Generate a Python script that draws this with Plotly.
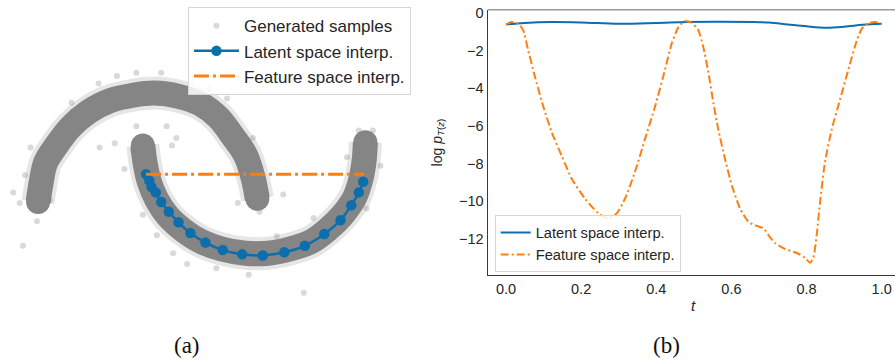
import plotly.graph_objects as go

# ---------------- Panel (a): two-moons samples ----------------
# centre line of the dense sample bands (data units)
upper_moon_x = [-0.99, -0.96, -0.92, -0.82, -0.69, -0.53, -0.32, -0.11, 0.09, 0.31, 0.51, 0.68, 0.81, 0.93, 1.00, 1.04]
upper_moon_y = [-0.03, 0.16, 0.34, 0.50, 0.67, 0.81, 0.92, 0.97, 0.99, 0.96, 0.89, 0.76, 0.59, 0.41, 0.20, 0.00]
lower_moon_x = [-0.02, 0.00, 0.04, 0.11, 0.21, 0.35, 0.52, 0.71, 0.93, 1.14, 1.34, 1.54, 1.69, 1.83, 1.94, 2.00, 2.03, 2.04]
lower_moon_y = [0.50, 0.34, 0.16, -0.01, -0.16, -0.29, -0.40, -0.47, -0.51, -0.51, -0.47, -0.40, -0.29, -0.15, 0.01, 0.19, 0.37, 0.53]

# isolated samples visible outside the dense bands
stray_x = [-1.13, 1.47, 1.28, -1.22, -1.16, -0.42, -0.19, -0.28, -0.08, 0.20, 0.29, 0.25, -0.43, -0.26, -0.08, 0.15,
           0.60, 0.76, -1.00, 2.18, 2.05, 0.11, 0.39, 0.26, 0.66, 0.96, 0.86, 1.06, 1.56, 1.98, 2.11, -0.11, 1.00,
           -0.02, -0.68, -1.06, -1.11, -0.88, 1.22, 1.87]
stray_y = [-0.44, -0.88, 0.04, 0.06, -0.04, 0.48, 0.28, 0.52, 0.68, 0.68, 0.57, 0.50, 1.08, 1.15, 1.18, 1.18,
           1.03, 0.94, -0.21, 0.31, -0.09, -0.34, -0.61, -0.51, -0.65, -0.71, -0.04, -0.12, -0.18, 0.64, 0.64, 0.45, 0.57,
           -0.15, 0.90, 0.48, 0.22, -0.01, -0.35, 0.39]

latent_x = [0.01, 0.04, 0.06, 0.10, 0.15, 0.22, 0.31, 0.42, 0.56, 0.72, 0.90, 1.09, 1.29, 1.48, 1.66, 1.81, 1.91, 1.98, 2.02]
latent_y = [0.23, 0.17, 0.11, 0.06, -0.03, -0.12, -0.22, -0.32, -0.41, -0.48, -0.52, -0.53, -0.50, -0.44, -0.33, -0.20, -0.06, 0.06, 0.16]

feature_x = [0.01, 2.03]
feature_y = [0.23, 0.23]

# ---------------- Panel (b): log-density along the path ----------------
t_latent = [0.0, 0.05, 0.12, 0.2, 0.3, 0.4, 0.48, 0.56, 0.66, 0.7, 0.75, 0.8, 0.853, 0.9, 0.95, 1.0]
lp_latent = [-0.60, -0.52, -0.47, -0.49, -0.56, -0.52, -0.47, -0.46, -0.47, -0.50, -0.60, -0.70, -0.77, -0.72, -0.62, -0.56]

t_feature = [0.000, 0.015, 0.033, 0.046, 0.059, 0.077, 0.099, 0.122, 0.148, 0.175, 0.210, 0.246, 0.271, 0.295,
             0.317, 0.343, 0.370, 0.397, 0.423, 0.441, 0.459, 0.476, 0.494, 0.512, 0.525, 0.539, 0.552, 0.565,
             0.583, 0.601, 0.623, 0.645, 0.667, 0.685, 0.698, 0.716, 0.743, 0.774, 0.796, 0.809, 0.818, 0.827,
             0.836, 0.849, 0.867, 0.889, 0.911, 0.934, 0.947, 0.964, 0.982, 1.000]
lp_feature = [-0.60, -0.47, -0.56, -0.91, -1.97, -3.37, -4.95, -6.35, -7.58, -8.81, -9.86, -10.65, -10.91, -10.65,
              -9.86, -8.46, -6.70, -4.95, -3.02, -1.62, -0.74, -0.42, -0.51, -0.91, -1.79, -3.19, -4.77, -6.18,
              -7.76, -9.16, -10.39, -11.09, -11.32, -11.44, -11.79, -12.23, -12.55, -12.76, -13.02, -13.28, -13.02, -11.79,
              -10.04, -7.93, -6.18, -4.60, -3.02, -1.44, -0.83, -0.53, -0.47, -0.56]

x_ticks = [0.0, 0.2, 0.4, 0.6, 0.8, 1.0]
x_tick_text = ["0.0", "0.2", "0.4", "0.6", "0.8", "1.0"]
y_ticks = [0, -2, -4, -6, -8, -10, -12]
y_tick_text = ["0", "\u22122", "\u22124", "\u22126", "\u22128", "\u221210", "\u221212"]

BLUE = "#0c6eac"
ORANGE = "#ff7f0e"
SANS = "Liberation Sans, Arial, sans-serif"
SERIF = "Liberation Serif, Times New Roman, serif"
TXT = "#262626"

fig = go.Figure()

# dense bands (halo + core) for both moons
for mx, my in [(upper_moon_x, upper_moon_y), (lower_moon_x, lower_moon_y)]:
    fig.add_trace(go.Scatter(x=mx, y=my, mode="lines", line=dict(color="rgba(128,128,128,0.2)", width=33, shape="spline"),
                             showlegend=False, hoverinfo="skip", xaxis="x", yaxis="y"))
    fig.add_trace(go.Scatter(x=mx, y=my, mode="lines", line=dict(color="#858585", width=25, shape="spline"),
                             showlegend=False, hoverinfo="skip", xaxis="x", yaxis="y"))
    fig.add_trace(go.Scatter(x=[mx[0], mx[-1]], y=[my[0], my[-1]], mode="markers",
                             marker=dict(color="#858585", size=24, line=dict(width=0)),
                             showlegend=False, hoverinfo="skip", xaxis="x", yaxis="y"))

fig.add_trace(go.Scatter(x=stray_x, y=stray_y, mode="markers", name="Generated samples",
                         marker=dict(color="gray", opacity=0.3, size=6, line=dict(width=0)),
                         xaxis="x", yaxis="y", legend="legend"))
fig.add_trace(go.Scatter(x=latent_x, y=latent_y, mode="lines+markers", name="Latent space interp.",
                         line=dict(color=BLUE, width=2.5, shape="spline"),
                         marker=dict(color=BLUE, size=10.5),
                         xaxis="x", yaxis="y", legend="legend"))
fig.add_trace(go.Scatter(x=feature_x, y=feature_y, mode="lines", name="Feature space interp.",
                         line=dict(color=ORANGE, width=3, dash="15px,4px,3px,4px"),
                         xaxis="x", yaxis="y", legend="legend"))

# panel (b)
fig.add_trace(go.Scatter(x=t_latent, y=lp_latent, mode="lines", name="Latent space interp.",
                         line=dict(color=BLUE, width=2, shape="spline", smoothing=1.0),
                         xaxis="x2", yaxis="y2", legend="legend2"))
fig.add_trace(go.Scatter(x=t_feature, y=lp_feature, mode="lines", name="Feature space interp.",
                         line=dict(color=ORANGE, width=2, shape="spline", smoothing=0.6, dash="8px,3px,2px,3px"),
                         xaxis="x2", yaxis="y2", legend="legend2"))

fig.update_layout(
    width=895, height=361,
    margin=dict(l=0, r=0, t=0, b=0),
    paper_bgcolor="white", plot_bgcolor="white",
    font=dict(family=SANS, color=TXT, size=14),
    xaxis=dict(domain=[0, 0.4693], range=[-1.3426, 2.5463], visible=False),
    yaxis=dict(domain=[0, 1], range=[-1.5185, 1.8241], visible=False),
    xaxis2=dict(domain=[0.5449, 1.0], range=[-0.0487, 1.0354], anchor="y2",
                tickvals=x_ticks, ticktext=x_tick_text, showgrid=False, zeroline=False,
                showline=True, linecolor="#3a3a3a", linewidth=1.3, ticks="",
                ticklabelstandoff=0, tickfont=dict(size=14.5, color=TXT, family=SANS)),
    yaxis2=dict(domain=[0.2410, 0.9842], range=[-13.93, 0.19], anchor="x2",
                tickvals=y_ticks, ticktext=y_tick_text, showgrid=False, zeroline=False,
                showline=True, linecolor="#3a3a3a", linewidth=1.3, ticks="",
                ticklabelstandoff=0, tickfont=dict(size=14.5, color=TXT, family=SANS)),
    legend=dict(x=0.210, y=0.991, xanchor="left", yanchor="top",
                bgcolor="rgba(255,255,255,0.85)", bordercolor="#d6d6d6", borderwidth=1,
                font=dict(size=17, color=TXT, family=SANS), itemwidth=45, tracegroupgap=0),
    legend2=dict(x=0.5527, y=0.4078, xanchor="left", yanchor="top",
                 bgcolor="rgba(255,255,255,0.85)", bordercolor="#d6d6d6", borderwidth=1,
                 font=dict(size=14.7, color=TXT, family=SANS), itemwidth=30, tracegroupgap=0),
    shapes=[dict(type="line", xref="x2 domain", yref="y2 domain", x0=0, x1=1, y0=1, y1=1,
                 line=dict(color="#999999", width=1.5))],
    annotations=[
        dict(text="(a)", x=187 / 895, y=1 - 345 / 361, xref="paper", yref="paper", showarrow=False,
             xanchor="center", yanchor="middle",
             font=dict(family=SERIF, size=23, color="#111111")),
        dict(text="(b)", x=666 / 895, y=1 - 345 / 361, xref="paper", yref="paper", showarrow=False,
             xanchor="center", yanchor="middle",
             font=dict(family=SERIF, size=23, color="#111111")),
        dict(text="<i>t</i>", x=693 / 895, y=1 - 305 / 361, xref="paper", yref="paper", showarrow=False,
             xanchor="center", yanchor="middle",
             font=dict(family=SANS, size=15, color=TXT)),
        dict(text="log <i>p</i><sub><i>T</i>(<i>z</i>)</sub>", x=438 / 895, y=1 - 140 / 361,
             xref="paper", yref="paper", showarrow=False, textangle=-90,
             xanchor="center", yanchor="middle",
             font=dict(family=SANS, size=14, color=TXT)),
    ],
)

fig.write_html("out.html", config={"displayModeBar": False},
               post_script="document.body.style.margin='0px';")
